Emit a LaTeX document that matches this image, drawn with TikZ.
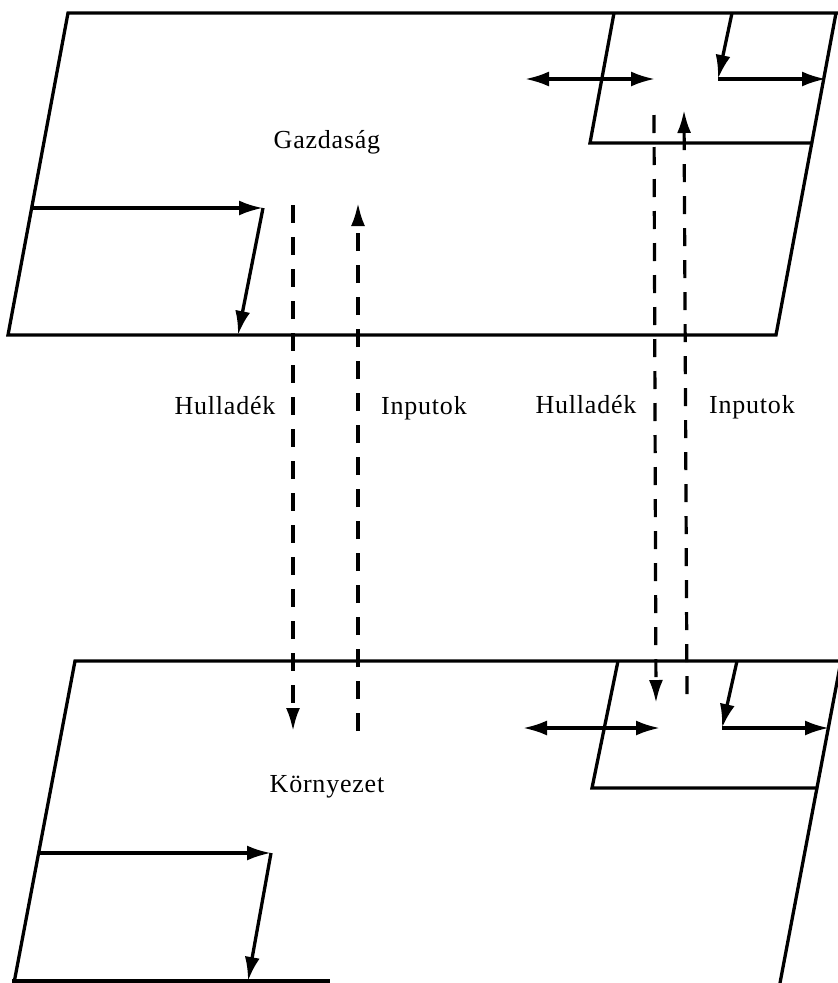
\documentclass[tikz,border=0pt]{standalone}
\usepackage{fontspec}
\setmainfont{Liberation Serif}[LetterSpace=3]
\usetikzlibrary{arrows.meta}
\begin{document}
\begin{tikzpicture}[x=1pt,y=-1pt,
  edge/.style={line width=3.3pt, line join=miter},
  arr/.style={edge,-{Latex[length=24pt,width=15pt]}},
  darr/.style={edge,{Latex[length=24pt,width=15pt]}-{Latex[length=24pt,width=15pt]}},
  flow/.style={line width=3.2pt, dash pattern=on 18pt off 14pt, -{Latex[length=23pt,width=14pt]}},
  lbl/.style={anchor=base, inner sep=0pt, font=\fontsize{26}{31}\selectfont}]
\useasboundingbox (0,0) rectangle (838,983);
\clip (0,0) rectangle (838,983);
% ---- top parallelogram (Gazdasag)
\coordinate (gTR) at (838,13);
\coordinate (gTL) at (68,13);
\coordinate (gBL) at (8,335);
\coordinate (gBR) at (776,335);
\coordinate (gRT) at (836,13);
\draw[edge] (gTR) -- (gTL) -- (gBL) -- (gBR) -- (gRT);
% small box top right
\coordinate (sA) at (614,13);
\coordinate (sB) at (590,143);
\coordinate (sC) at (813,143);
\draw[edge] (sA) -- (sB) -- (sC);
\coordinate (sM1) at (732,13);
\coordinate (sM2) at (718,79);
\coordinate (sM3) at (826,79);
\draw[arr] (sM1) -- (sM2);
\draw[arr] (sM2) -- (sM3);
\coordinate (dA) at (525,79);
\coordinate (dB) at (655,79);
\draw[darr] (dA) -- (dB);
% small box left
\coordinate (lA) at (32,208);
\coordinate (lB) at (263,208);
\coordinate (lC) at (238,335);
\draw[arr] (lA) -- (lB);
\draw[arr] (lB) -- (lC);
% ---- bottom parallelogram (Kornyezet)
\coordinate (kTR) at (838,661);
\coordinate (kTL) at (75,661);
\coordinate (kBL) at (14,983);
\draw[edge] (kTR) -- (kTL) -- (kBL);
\coordinate (kB1) at (12,981);
\coordinate (kB2) at (330,981);
\draw[edge] (kB1) -- (kB2);
\coordinate (kR1) at (841,661);
\coordinate (kR2) at (780,983);
\draw[edge] (kR1) -- (kR2);
% small box bottom right
\coordinate (tA) at (618,661);
\coordinate (tB) at (592,788);
\coordinate (tC) at (818,788);
\draw[edge] (tA) -- (tB) -- (tC);
\coordinate (tM1) at (737,661);
\coordinate (tM2) at (722,728);
\coordinate (tM3) at (829,728);
\draw[arr] (tM1) -- (tM2);
\draw[arr] (tM2) -- (tM3);
\coordinate (eA) at (523,728);
\coordinate (eB) at (660,728);
\draw[darr] (eA) -- (eB);
% small box bottom left
\coordinate (mA) at (39,853);
\coordinate (mB) at (271,853);
\coordinate (mC) at (248,981);
\draw[arr] (mA) -- (mB);
\draw[arr] (mB) -- (mC);
% ---- dashed flows
\coordinate (h1s) at (293,205);
\coordinate (h1e) at (293,731);
\draw[flow] (h1s) -- (h1e);
\coordinate (i1s) at (358,731);
\coordinate (i1e) at (358,203);
\draw[flow] (i1s) -- (i1e);
\coordinate (h2s) at (654,115);
\coordinate (h2e) at (656,703);
\draw[flow] (h2s) -- (h2e);
\coordinate (i2s) at (687,694);
\coordinate (i2e) at (684,110);
\draw[flow] (i2s) -- (i2e);
% ---- labels
\node[lbl] (gaz) at (327,148) {Gazdaság};
\node[lbl] (kor) at (327,792) {Környezet};
\node[lbl] (hul1) at (225,414) {Hulladék};
\node[lbl] (inp1) at (424,414) {Inputok};
\node[lbl] (hul2) at (586,413) {Hulladék};
\node[lbl] (inp2) at (752,413) {Inputok};
\end{tikzpicture}
\end{document}
